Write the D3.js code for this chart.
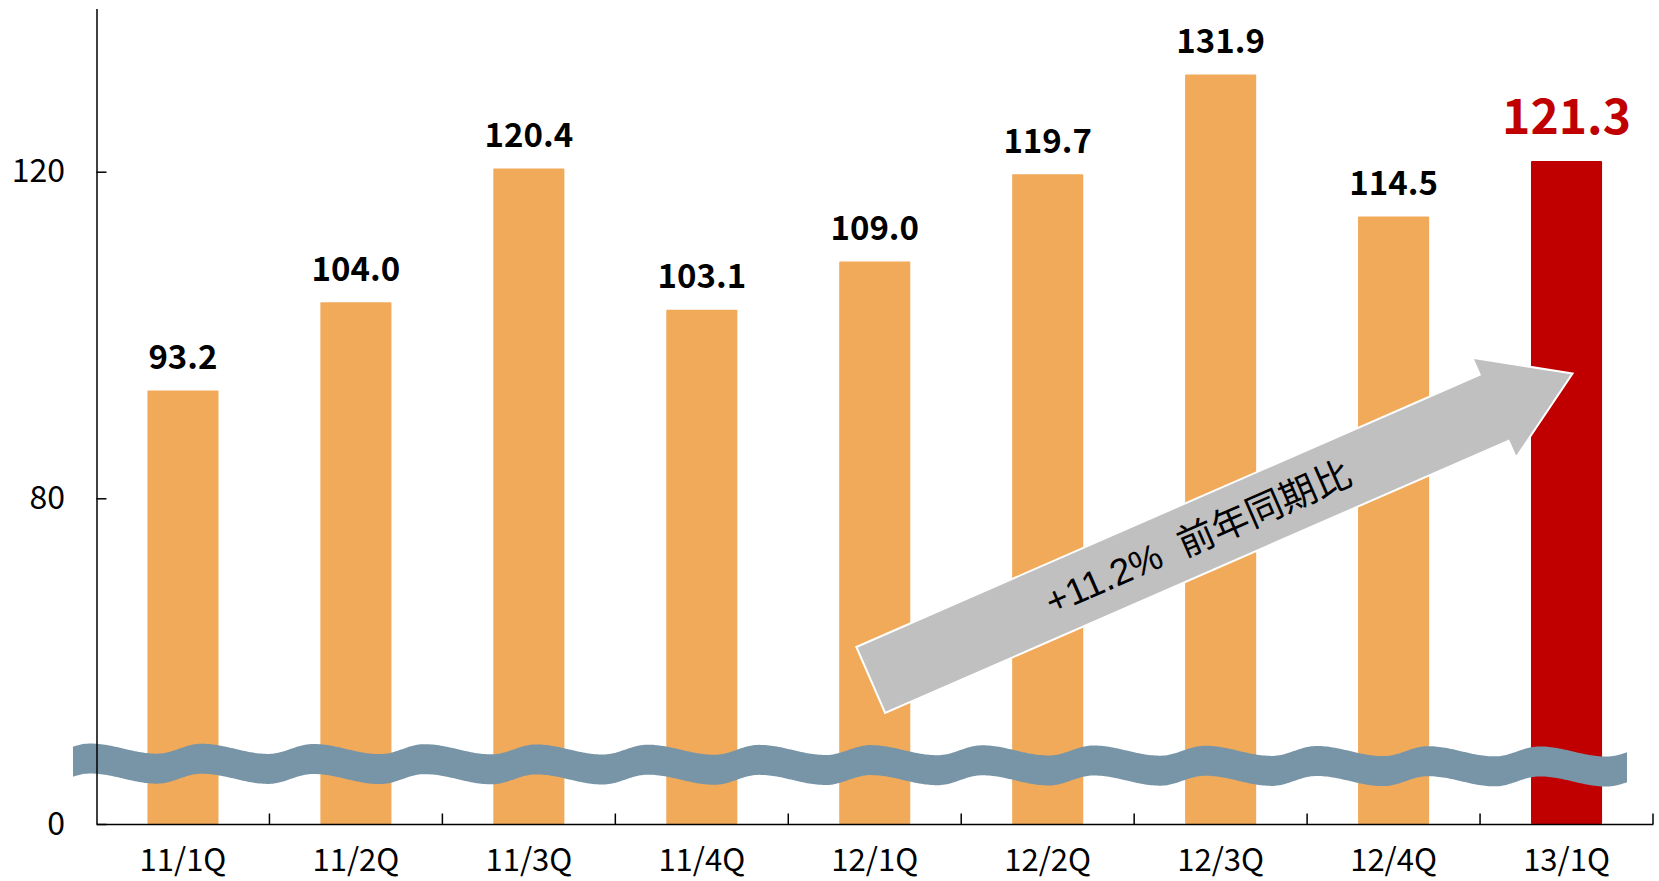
<!DOCTYPE html>
<html>
<head>
<meta charset="utf-8">
<script src="https://cdn.jsdelivr.net/npm/d3@7"></script>
<style>
  body { margin: 0; background: #fff; }
  svg { display: block; }
</style>
</head>
<body>
<svg id="chart"></svg>
<script>

var quarters = ["11/1Q", "11/2Q", "11/3Q", "11/4Q", "12/1Q", "12/2Q", "12/3Q", "12/4Q", "13/1Q"];
var sales = [93.2, 104.0, 120.4, 103.1, 109.0, 119.7, 131.9, 114.5, 121.3];
var yTicks = [0, 80, 120];
var growthLabel = "+11.2%  前年同期比";

var width = 1659, height = 881;
var margin = { left: 96.5, right: 1653, top: 8.4, bottom: 824 };
var font = "'Noto Sans CJK JP', 'Noto Sans', sans-serif";

var svg = d3.select("#chart")
    .attr("width", width)
    .attr("height", height);

var x = d3.scaleBand()
    .domain(quarters)
    .range([margin.left, margin.right])
    .paddingInner(0.589)
    .paddingOuter(0.2945);

// axis is broken: 0..80 is squeezed into the strip under the wave
var y = d3.scaleLinear()
    .domain([0, 80, 140])
    .range([margin.bottom, 498.3, margin.top]);

function cx(q) { return x(q) + x.bandwidth() / 2; }

// bars
svg.append("g")
    .selectAll("rect")
    .data(sales)
    .enter().append("rect")
    .attr("x", function (d, i) { return x(quarters[i]); })
    .attr("y", function (d) { return y(d); })
    .attr("width", x.bandwidth())
    .attr("height", function (d) { return y(0) - y(d); })
    .attr("rx", 1)
    .attr("fill", function (d, i) { return i === sales.length - 1 ? "#C00000" : "#F0AA5A"; });

// wavy break band
var period = 111.5, amp = 5, thick = 30, waveStart = 73, waveEnd = 1627;
function wave(xx) {
    var t = ((xx - 90) % period + period) % period / period;
    if (t < 0.6) return -amp * Math.cos(Math.PI * t / 0.6);
    return amp * Math.cos(Math.PI * (t - 0.6) / 0.4);
}
function waveMid(xx) { return 763.5 + (xx - waveStart) * 0.002 + wave(xx); }
var wxs = d3.range(waveStart, waveEnd, 2).concat([waveEnd]);

svg.append("path")
    .datum(wxs)
    .attr("d", d3.area()
        .x(function (d) { return d; })
        .y0(function (d) { return waveMid(d) - thick / 2; })
        .y1(function (d) { return waveMid(d) + thick / 2; }))
    .attr("fill", "#7895A8");

// axes
var yAxis = d3.axisLeft(y)
    .tickValues(yTicks)
    .tickSizeInner(-10)
    .tickSizeOuter(0)
    .tickPadding(31.5);

var gy = svg.append("g")
    .attr("transform", "translate(" + margin.left + ",0)")
    .call(yAxis);
gy.attr("font-family", font).attr("font-size", 32);
gy.selectAll("path, line").attr("stroke", "#000").attr("stroke-width", 1.5);
gy.selectAll("text").attr("fill", "#000");

var xAxis = d3.axisBottom(x)
    .tickSize(0)
    .tickPadding(25);

var gx = svg.append("g")
    .attr("transform", "translate(0," + margin.bottom + ")")
    .call(xAxis);
gx.attr("font-family", font).attr("font-size", 31);
gx.select(".domain").attr("stroke", "#000").attr("stroke-width", 1.5);
gx.selectAll("text").attr("fill", "#000");

// tick marks sit on the category boundaries
gx.selectAll(".sep")
    .data(quarters)
    .enter().append("line")
    .attr("class", "sep")
    .attr("x1", function (d, i) { return margin.left + (i + 1) * x.step(); })
    .attr("x2", function (d, i) { return margin.left + (i + 1) * x.step(); })
    .attr("y1", 0)
    .attr("y2", -10.5)
    .attr("stroke", "#000")
    .attr("stroke-width", 1.5);

// growth arrow
var tail = [cx("12/1Q") - 4, 680];
var tip = [cx("13/1Q") + 6, 373.5];
var len = Math.hypot(tip[0] - tail[0], tip[1] - tail[1]);
var ang = Math.atan2(tip[1] - tail[1], tip[0] - tail[0]) * 180 / Math.PI;
var shaft = 36, head = 54.5, headLen = 85.5;

var arrow = svg.append("g")
    .attr("transform", "translate(" + tail[0] + "," + tail[1] + ") rotate(" + ang + ")");

arrow.append("path")
    .attr("d", d3.line()([
        [0, -shaft], [len - headLen, -shaft], [len - headLen, -head], [len, 0],
        [len - headLen, head], [len - headLen, shaft], [0, shaft]
    ]) + "Z")
    .attr("fill", "#C0C0C0")
    .attr("stroke", "#fff")
    .attr("stroke-width", 2)
    .attr("stroke-linejoin", "miter");

arrow.append("text")
    .attr("x", 357)
    .attr("y", 0)
    .attr("dy", "0.36em")
    .attr("text-anchor", "middle")
    .attr("font-family", "'Liberation Sans', 'Noto Sans CJK JP', sans-serif")
    .attr("font-size", 37)
    .style("white-space", "pre")
    .attr("fill", "#000")
    .text(growthLabel);

// value labels
svg.append("g")
    .selectAll("text")
    .data(sales)
    .enter().append("text")
    .attr("x", function (d, i) { return cx(quarters[i]); })
    .attr("y", function (d, i) { return y(d) - (i === sales.length - 1 ? 27 : 21.6); })
    .attr("text-anchor", "middle")
    .attr("font-family", font)
    .attr("font-weight", "bold")
    .attr("font-size", function (d, i) { return i === sales.length - 1 ? 48 : 33; })
    .attr("fill", function (d, i) { return i === sales.length - 1 ? "#C00000" : "#000"; })
    .text(function (d) { return d.toFixed(1); });

</script>
</body>
</html>
